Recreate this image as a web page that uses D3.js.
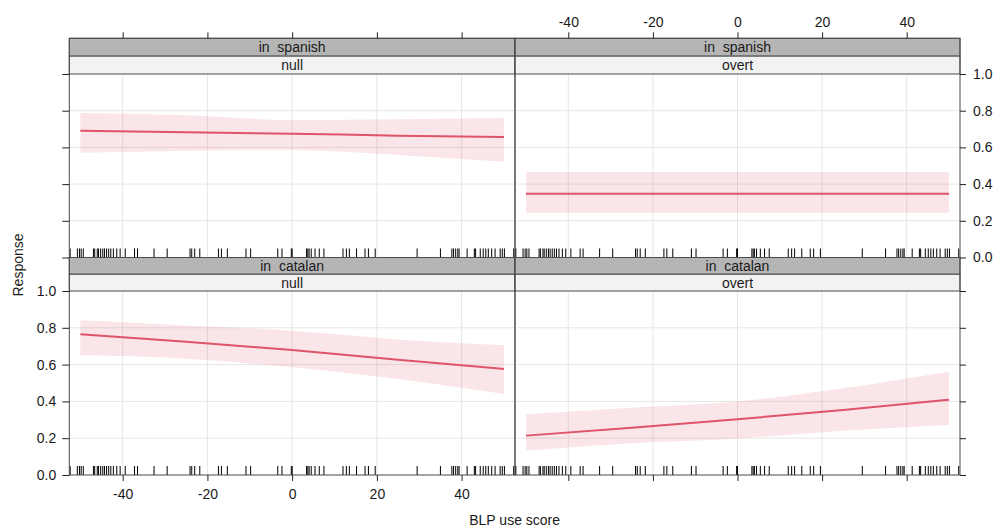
<!DOCTYPE html>
<html><head><meta charset="utf-8">
<script src="https://cdn.jsdelivr.net/npm/d3@7"></script>
<style>
body{margin:0;background:#fff}
svg text{font-family:"Liberation Sans",Arial,sans-serif;fill:#1a1a1a}
</style>
</head><body><svg id="c" width="995" height="527"></svg>
<script>
// ---- data ----
const effX = [-50, -25, 0, 25, 50];
const rowLabels = ["in  spanish", "in  catalan"];
const colLabels = ["null", "overt"];

const spanishNullFit   = [0.691, 0.682, 0.675, 0.664, 0.657];
const spanishNullLower = [0.571, 0.582, 0.586, 0.559, 0.522];
const spanishNullUpper = [0.787, 0.775, 0.749, 0.753, 0.762];

const spanishOvertFit   = [0.348, 0.348, 0.348, 0.348, 0.348];
const spanishOvertLower = [0.244, 0.244, 0.244, 0.244, 0.244];
const spanishOvertUpper = [0.466, 0.466, 0.466, 0.466, 0.466];

const catalanNullFit   = [0.765, 0.724, 0.679, 0.627, 0.576];
const catalanNullLower = [0.652, 0.632, 0.585, 0.522, 0.440];
const catalanNullUpper = [0.841, 0.813, 0.784, 0.737, 0.705];

const catalanOvertFit   = [0.214, 0.257, 0.303, 0.353, 0.409];
const catalanOvertLower = [0.132, 0.172, 0.199, 0.241, 0.272];
const catalanOvertUpper = [0.330, 0.366, 0.400, 0.471, 0.561];

const rug = [-52.4,-50.7,-50.2,-49.8,-49.3,-46.9,-46.6,-46.0,-45.7,-45.2,-44.7,-44.3,-43.8,-43.3,-42.8,
  -42.2,-41.4,-40.6,-39.4,-37.2,-36.5,-32.6,-29.5,-24.1,-23.7,-23.0,-21.8,-17.4,-16.7,-15.3,-10.9,-9.8,
  -3.4,-2.4,-0.2,0.0,3.4,3.7,4.0,4.5,5.4,6.4,7.5,12.0,12.8,13.5,15.2,17.2,18.0,19.6,29.5,35.0,37.7,38.1,
  38.6,39.1,39.4,41.3,43.0,43.3,44.4,45.1,45.7,46.3,47.1,47.9,49.1,49.6,50.1,52.3];

const xTicks = [-40, -20, 0, 20, 40];
const yTicks = [0, 0.2, 0.4, 0.6, 0.8, 1.0];
const yTickLabels = ["0.0", "0.2", "0.4", "0.6", "0.8", "1.0"];
const xTitle = "BLP use score";
const yTitle = "Response";

const panels = [
  {row:0, col:0, fit:spanishNullFit, lower:spanishNullLower, upper:spanishNullUpper},
  {row:0, col:1, fit:spanishOvertFit, lower:spanishOvertLower, upper:spanishOvertUpper},
  {row:1, col:0, fit:catalanNullFit, lower:catalanNullLower, upper:catalanNullUpper},
  {row:1, col:1, fit:catalanOvertFit, lower:catalanOvertLower, upper:catalanOvertUpper}
];

// ---- layout ----
const colEdges = [69.3, 515, 960];
const rowLayout = [
  {stripTop:38.3, plotTop:74, plotBottom:257.5},
  {stripTop:257.5, plotTop:291, plotBottom:475}
];
const lineColor = "#DF536B";
const bandColor = "rgba(223,83,107,0.15)";
const borderColor = "#4a4a4a";
const gridColor = "#e6e6e6";
const rugLen = 9, tickLen = 6;
const fs = 14;

const svg = d3.select("#c");
const xScales = [0,1].map(c => d3.scaleLinear().domain([-52.6, 52.6]).range([colEdges[c], colEdges[c+1]]));
const yScales = [0,1].map(r => d3.scaleLinear().domain([0, 1]).range([rowLayout[r].plotBottom, rowLayout[r].plotTop]));

panels.forEach(p => {
  const x = xScales[p.col], y = yScales[p.row], L = rowLayout[p.row];
  const g = svg.append("g");
  const x0 = colEdges[p.col], x1 = colEdges[p.col+1];
  // grid
  g.selectAll(".vg").data(xTicks).join("line")
    .attr("x1", d => x(d)).attr("x2", d => x(d)).attr("y1", L.plotTop).attr("y2", L.plotBottom)
    .attr("stroke", gridColor).attr("stroke-width", 1);
  g.selectAll(".hg").data(yTicks.filter(d => d > 0 && d < 1)).join("line")
    .attr("x1", x0).attr("x2", x1).attr("y1", d => y(d)).attr("y2", d => y(d))
    .attr("stroke", gridColor).attr("stroke-width", 1);
  // band
  const pts = effX.map((v, i) => ({x: v, lo: p.lower[i], hi: p.upper[i], f: p.fit[i]}));
  g.append("path").datum(pts)
    .attr("d", d3.area().x(d => x(d.x)).y0(d => y(d.lo)).y1(d => y(d.hi)).curve(d3.curveMonotoneX))
    .attr("fill", bandColor);
  g.append("path").datum(pts)
    .attr("d", d3.line().x(d => x(d.x)).y(d => y(d.f)).curve(d3.curveMonotoneX))
    .attr("fill", "none").attr("stroke", lineColor).attr("stroke-width", 2);
  // rug
  g.selectAll(".rug").data(rug).join("line")
    .attr("x1", d => x(d)).attr("x2", d => x(d))
    .attr("y1", L.plotBottom).attr("y2", L.plotBottom - rugLen)
    .attr("stroke", "#000").attr("stroke-width", 1);
  // strips
  const sh = (L.plotTop - L.stripTop) / 2;
  g.append("rect").attr("x", x0).attr("y", L.stripTop).attr("width", x1 - x0).attr("height", sh)
    .attr("fill", "#b5b5b5").attr("stroke", borderColor);
  g.append("rect").attr("x", x0).attr("y", L.stripTop + sh).attr("width", x1 - x0).attr("height", sh)
    .attr("fill", "#f2f2f2").attr("stroke", borderColor);
  g.append("text").attr("x", (x0 + x1) / 2).attr("y", L.stripTop + sh / 2).attr("dy", "0.36em")
    .attr("text-anchor", "middle").style("font-size", fs + "px").style("white-space", "pre")
    .text(rowLabels[p.row]);
  g.append("text").attr("x", (x0 + x1) / 2).attr("y", L.stripTop + sh * 1.5).attr("dy", "0.36em")
    .attr("text-anchor", "middle").style("font-size", fs + "px").text(colLabels[p.col]);
  // border
  g.append("rect").attr("x", x0).attr("y", L.stripTop).attr("width", x1 - x0).attr("height", L.plotBottom - L.stripTop)
    .attr("fill", "none").attr("stroke", borderColor);
});

// ---- axes ----
function styleAxis(sel) {
  sel.select(".domain").remove();
  sel.selectAll(".tick line").attr("stroke", "#222");
  sel.selectAll(".tick text").style("font-size", fs + "px").attr("fill", "#1a1a1a")
    .style("font-family", '"Liberation Sans",Arial,sans-serif');
}
// top axes
[0,1].forEach(c => {
  const a = d3.axisTop(xScales[c]).tickValues(xTicks).tickSize(tickLen).tickPadding(5)
    .tickFormat(c === 1 ? (d => d3.format("d")(d).replace("−", "-")) : () => "");
  svg.append("g").attr("transform", `translate(0,${rowLayout[0].stripTop})`).call(a).call(styleAxis);
});
// bottom axes
[0,1].forEach(c => {
  const a = d3.axisBottom(xScales[c]).tickValues(xTicks).tickSize(tickLen).tickPadding(8)
    .tickFormat(c === 0 ? (d => d3.format("d")(d).replace("−", "-")) : () => "");
  svg.append("g").attr("transform", `translate(0,${rowLayout[1].plotBottom})`).call(a).call(styleAxis);
});
// left axes
[0,1].forEach(r => {
  const a = d3.axisLeft(yScales[r]).tickValues(yTicks).tickSize(tickLen + 1).tickPadding(6)
    .tickFormat(r === 1 ? ((d, i) => yTickLabels[i]) : () => "");
  svg.append("g").attr("transform", `translate(${colEdges[0]},0)`).call(a).call(styleAxis);
});
// right axes
[0,1].forEach(r => {
  const a = d3.axisRight(yScales[r]).tickValues(yTicks).tickSize(tickLen).tickPadding(7)
    .tickFormat(r === 0 ? ((d, i) => yTickLabels[i]) : () => "");
  svg.append("g").attr("transform", `translate(${colEdges[2]},0)`).call(a).call(styleAxis);
});

// titles
svg.append("text").attr("x", (colEdges[0] + colEdges[2]) / 2).attr("y", 520).attr("dy", "0.36em")
  .attr("text-anchor", "middle").style("font-size", fs + "px").text(xTitle);
svg.append("text").attr("transform", "translate(18,265) rotate(-90)").attr("dy", "0.36em")
  .attr("text-anchor", "middle").style("font-size", fs + "px").text(yTitle);
</script>
</body></html>
